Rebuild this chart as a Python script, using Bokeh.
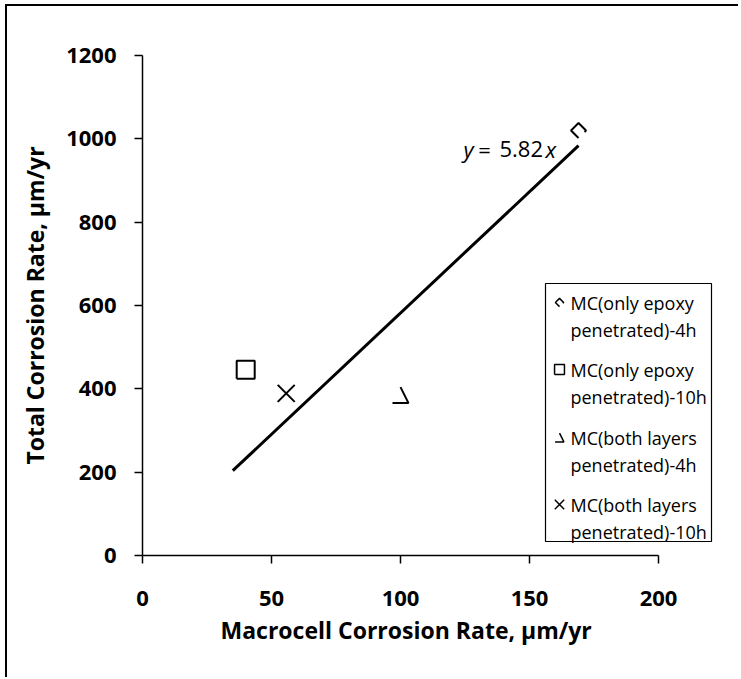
from bokeh.plotting import figure
from bokeh.models import Range1d, FixedTicker, Title
from bokeh.core.properties import value
from bokeh.embed import file_html
from bokeh.resources import INLINE

# ---------------- data ----------------
legend_line1 = ["MC(only epoxy", "MC(only epoxy", "MC(both layers", "MC(both layers"]
legend_line2 = ["penetrated)-4h", "penetrated)-10h", "penetrated)-4h", "penetrated)-10h"]
marker_kinds = ["chevron", "square", "tri", "x"]
macrocell_rate = [169, 40, 100, 55.7]      # µm/yr
total_rate = [1020, 446, 385, 389]         # µm/yr
fit_slope = 5.82
fit_x = [35, 169]
x_ticks = [0, 50, 100, 150, 200]
y_ticks = [0, 200, 400, 600, 800, 1000, 1200]

# ---------------- layout ----------------
FONT = "Open Sans"
FRAME_W, FRAME_H = 581, 500
X_PX = 516 / 200.0          # pixels per x unit
Y_PX = FRAME_H / 1200.0     # pixels per y unit

def fx(px):  # pixel offset from frame left -> data x
    return px / X_PX

def fy(py):  # pixel offset from frame top -> data y
    return 1200 - py / Y_PX

p = figure(frame_width=FRAME_W, frame_height=FRAME_H,
           x_range=Range1d(0, FRAME_W / X_PX), y_range=Range1d(0, 1200),
           output_backend="svg", toolbar_location=None,
           min_border_left=135, min_border_right=15,
           min_border_top=49, min_border_bottom=40)
p.styles = {"border-left": "2px solid black", "border-top": "2px solid black",
            "margin-left": "5px", "margin-top": "4px"}
p.outline_line_color = None
p.background_fill_color = "white"
p.border_fill_color = "white"
p.xgrid.visible = False
p.ygrid.visible = False

for ax, ticks in ((p.xaxis[0], x_ticks), (p.yaxis[0], y_ticks)):
    ax.ticker = FixedTicker(ticks=ticks)
    ax.bounds = (ticks[0], ticks[-1])
    ax.axis_line_width = 1.5
    ax.axis_line_color = "black"
    ax.major_tick_line_width = 1.5
    ax.major_tick_line_color = "black"
    ax.major_tick_out = 8
    ax.major_tick_in = 0
    ax.minor_tick_out = 0
    ax.minor_tick_in = 0
    ax.major_label_text_font = FONT
    ax.major_label_text_font_size = "22px"
    ax.major_label_text_font_style = "bold"
    ax.major_label_text_color = "black"

p.xaxis.major_label_standoff = 27
p.yaxis.major_label_standoff = 18
p.yaxis.axis_label = "Total Corrosion Rate, µm/yr"
p.yaxis.axis_label_text_font = FONT
p.yaxis.axis_label_text_font_size = "23px"
p.yaxis.axis_label_text_font_style = "bold"
p.yaxis.axis_label_text_color = "black"
p.yaxis.axis_label_standoff = 12

p.add_layout(Title(text="Macrocell Corrosion Rate, µm/yr", align="left", offset=78,
                   text_font=FONT, text_font_size="23px", text_font_style="bold",
                   text_color="black", standoff=6), "below")
p.min_border_bottom = 40

# ---------------- fit line ----------------
p.line(fit_x, [fit_slope * v for v in fit_x], line_color="black", line_width=3)

# equation
eq_y = fy(93)
p.text(x=[fx(321)], y=[eq_y], text=["y"], text_font=value(FONT), text_font_size="22px",
       text_font_style="italic", text_baseline="middle", text_align="left", text_color="black")
p.text(x=[fx(342)], y=[eq_y], text=["="], text_font=value(FONT), text_font_size="22px",
       text_baseline="middle", text_align="center", text_color="black")
p.text(x=[fx(357)], y=[eq_y], text=["5.82"], text_font=value(FONT), text_font_size="22px",
       text_baseline="middle", text_align="left", text_color="black")
p.text(x=[fx(403)], y=[eq_y], text=["x"], text_font=value(FONT), text_font_size="22px",
       text_font_style="italic", text_baseline="middle", text_align="left", text_color="black")

# ---------------- custom markers ----------------
SHAPES = {
    "chevron": [[(0, -7.5), (-7.5, 0), (0, 7.5), (7.5, 0), (6, -1.5)]],
    "square": [[(-9, -9), (9, -9), (9, 9), (-9, 9), (-9, -9)]],
    "tri": [[(-8, -8), (8, -8), (0, 8)]],
    "x": [[(-8.5, -8.5), (8.5, 8.5)], [(-8.5, 8.5), (8.5, -8.5)]],
}

def marker_paths(kind, x, y, scale):
    xs, ys = [], []
    for path in SHAPES[kind]:
        xs.append([x + dx * scale / X_PX for dx, dy in path])
        ys.append([y + dy * scale / Y_PX for dx, dy in path])
    return xs, ys

mx, my = [], []
for kind, xv, yv in zip(marker_kinds, macrocell_rate, total_rate):
    a, b = marker_paths(kind, xv, yv, 1.0)
    mx += a
    my += b
p.multi_line(mx, my, line_color="black", line_width=2)

# ---------------- legend ----------------
LEG_L, LEG_R, LEG_T, LEG_B = 403, 569, 228, 486
p.quad(left=[fx(LEG_L)], right=[fx(LEG_R)], top=[fy(LEG_T)], bottom=[fy(LEG_B)],
       fill_color="white", line_color="black", line_width=1.2)
row1 = [247, 314, 382, 449]
lx, ly = [], []
for i, kind in enumerate(marker_kinds):
    a, b = marker_paths(kind, fx(417), fy(row1[i]), 0.55)
    lx += a
    ly += b
p.multi_line(lx, ly, line_color="black", line_width=1.5)
p.text(x=[fx(428)] * 4, y=[fy(r) for r in row1], text=legend_line1,
       text_font=value(FONT), text_font_size="18px", text_baseline="middle",
       text_align="left", text_color="black")
p.text(x=[fx(428)] * 4, y=[fy(r + 27) for r in row1], text=legend_line2,
       text_font=value(FONT), text_font_size="18px", text_baseline="middle",
       text_align="left", text_color="black")

# stretch the canvas so the outer frame runs to the bottom of the window
p.height = None
p.min_border_bottom = 122

open("out.html", "w").write(file_html(p, INLINE))
